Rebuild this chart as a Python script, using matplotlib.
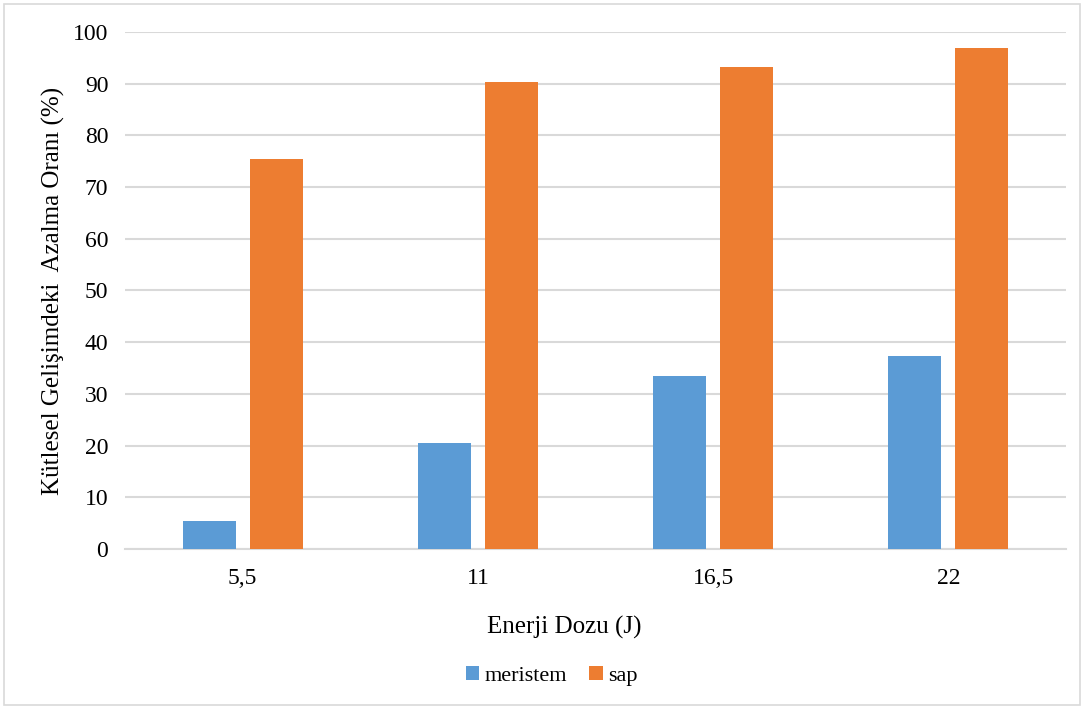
import numpy as np
import matplotlib.pyplot as plt
from matplotlib.patches import Rectangle

# data
doses = ['5,5', '11', '16,5', '22']
meristem = [5.4, 20.5, 33.5, 37.3]
sap = [75.5, 90.4, 93.2, 96.9]

plt.rcParams['font.family'] = ['Liberation Serif', 'DejaVu Serif']

fig = plt.figure(figsize=(10.84, 7.08), dpi=100)
ax = fig.add_axes([0.1153, 0.2246, 0.8681, 0.7302])

x = np.arange(len(doses))
w = 0.225
gap = 0.06
ax.bar(x - (w + gap) / 2, meristem, w, color='#5B9BD5', label='meristem', zorder=3)
ax.bar(x + (w + gap) / 2, sap, w, color='#ED7D31', label='sap', zorder=3)

ax.set_xlim(-0.5, len(doses) - 0.5)
ax.set_ylim(0, 100)
ax.set_yticks(range(0, 101, 10))
ax.set_xticks(x)
ax.set_xticklabels(doses)
ax.tick_params(length=0, labelsize=17)
ax.tick_params(axis='x', pad=14)
ax.tick_params(axis='y', pad=12)
ax.grid(axis='y', color='#d9d9d9', linewidth=1.5, zorder=0)
for s in ['top', 'right', 'left']:
    ax.spines[s].set_visible(False)
ax.spines['bottom'].set_color('#d9d9d9')
ax.spines['bottom'].set_linewidth(1.5)

ax.set_xlabel('Enerji Dozu (J)', fontsize=18)
ax.xaxis.set_label_coords(0.4665, -0.13)
ax.set_ylabel('Kütlesel Gelişimdeki  Azalma Oranı (%)', fontsize=18, labelpad=6)

fig.legend(loc='center', bbox_to_anchor=(0.509, 0.045), ncol=2, frameon=False,
           fontsize=16, handlelength=0.6, handleheight=0.6, handletextpad=0.25,
           columnspacing=1.0)

fig.patches.append(Rectangle((0.004, 0.004), 0.992, 0.99, transform=fig.transFigure,
                             fill=False, edgecolor='#d9d9d9', linewidth=1.2))

fig.savefig('out.png', dpi=100)
